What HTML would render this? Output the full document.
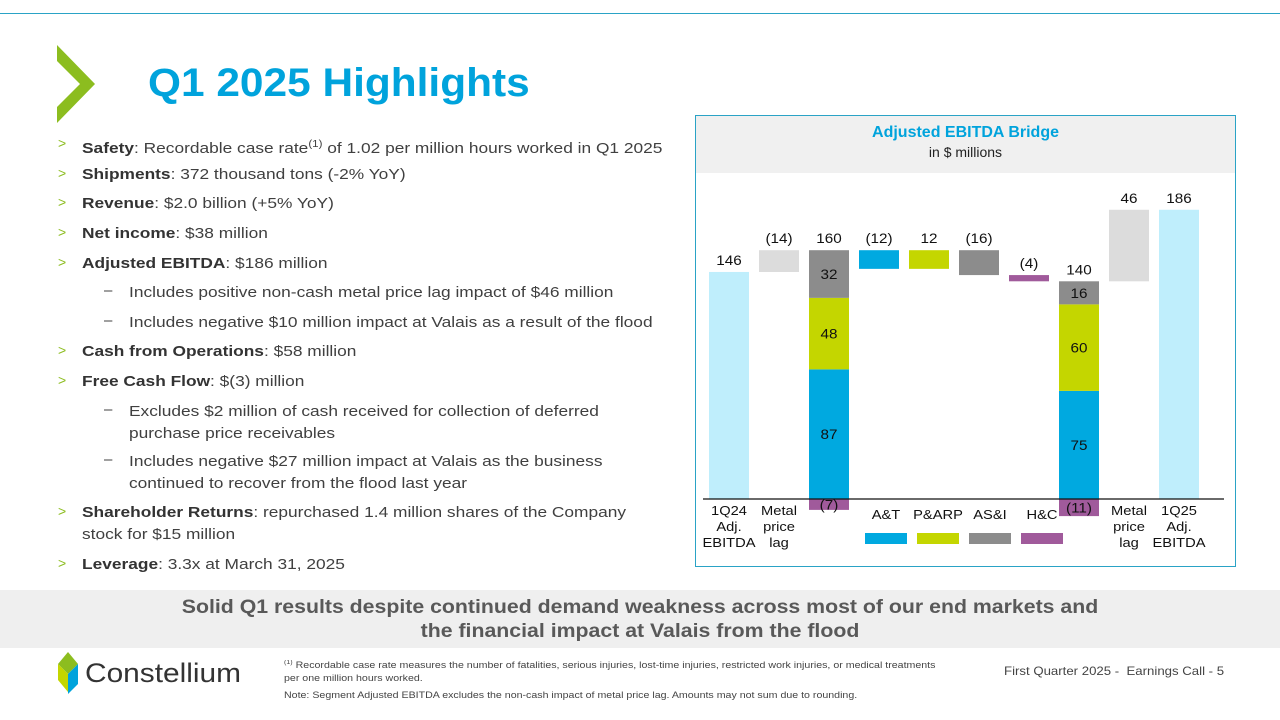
<!DOCTYPE html>
<html><head><meta charset="utf-8"><style>
*{margin:0;padding:0;box-sizing:border-box}
body{width:1280px;height:720px;background:#fff;font-family:"Liberation Sans",sans-serif;position:relative;overflow:hidden;color:#404040}
.abs{position:absolute}
.li{position:absolute;left:82px;font-size:15px;line-height:21px;white-space:nowrap;transform:scaleX(1.155);transform-origin:0 0}
.gt{position:absolute;left:58px;font-size:14px;color:#8cbd1f}
.sub{position:absolute;left:129px;font-size:15px;line-height:21.5px;white-space:nowrap;transform:scaleX(1.155);transform-origin:0 0}
.dash{position:absolute;left:104px;font-size:15px}
b{color:#333}
</style></head><body>
<div class="abs" style="left:0;top:13px;width:1280px;height:1px;background:#2aa3c6"></div>
<svg class="abs" style="left:55px;top:44px" width="45" height="80"><polygon points="2,1 40,40 2,79 2,63 25,40 2,17" fill="#8cbd1f"/></svg>
<div class="abs" style="left:148px;top:60px;font-size:40px;font-weight:bold;color:#00a3dc;line-height:46px;transform:scaleX(1.06);transform-origin:0 0">Q1 2025 Highlights</div>

<div>
<span class="gt" style="top:135px">&gt;</span><div class="li" style="top:134px"><b>Safety</b>: Recordable case rate<sup style="font-size:10px">(1)</sup> of 1.02 per million hours worked in Q1 2025</div>
<span class="gt" style="top:165px">&gt;</span><div class="li" style="top:164px"><b>Shipments</b>: 372 thousand tons (-2% YoY)</div>
<span class="gt" style="top:194px">&gt;</span><div class="li" style="top:193px"><b>Revenue</b>: $2.0 billion (+5% YoY)</div>
<span class="gt" style="top:224px">&gt;</span><div class="li" style="top:223px"><b>Net income</b>: $38 million</div>
<span class="gt" style="top:254px">&gt;</span><div class="li" style="top:253px"><b>Adjusted EBITDA</b>: $186 million</div>
<span class="dash" style="top:282px">–</span><div class="sub" style="top:282px">Includes positive non-cash metal price lag impact of $46 million</div>
<span class="dash" style="top:312px">–</span><div class="sub" style="top:312px">Includes negative $10 million impact at Valais as a result of the flood</div>
<span class="gt" style="top:342px">&gt;</span><div class="li" style="top:341px"><b>Cash from Operations</b>: $58 million</div>
<span class="gt" style="top:372px">&gt;</span><div class="li" style="top:371px"><b>Free Cash Flow</b>: $(3) million</div>
<span class="dash" style="top:401px">–</span><div class="sub" style="top:401px">Excludes $2 million of cash received for collection of deferred<br>purchase price receivables</div>
<span class="dash" style="top:451px">–</span><div class="sub" style="top:451px">Includes negative $27 million impact at Valais as the business<br>continued to recover from the flood last year</div>
<span class="gt" style="top:503px">&gt;</span><div class="li" style="top:502px;line-height:22px"><b>Shareholder Returns</b>: repurchased 1.4 million shares of the Company<br>stock for $15 million</div>
<span class="gt" style="top:555px">&gt;</span><div class="li" style="top:554px"><b>Leverage</b>: 3.3x at March 31, 2025</div>
</div>

<div class="abs" style="left:695px;top:115px;width:541px;height:452px;border:1px solid #2aa3c6">
<div style="height:57px;background:#f0f0f0;text-align:center;padding-top:7px">
<div style="font-size:16px;font-weight:bold;color:#00a3dc;line-height:20px">Adjusted EBITDA Bridge</div>
<div style="font-size:14px;color:#222;line-height:18px">in $ millions</div>
</div></div>
<svg class="abs" id="chart" style="left:0;top:0" width="1280" height="720"></svg>

<div class="abs" style="left:0;top:590px;width:1280px;height:58px;background:#efefef;padding-top:6px;font-size:19px;font-weight:bold;color:#595959;line-height:24px">
<div style="text-align:center;width:1142px;margin-left:69px;transform:scaleX(1.12);transform-origin:50% 0">Solid Q1 results despite continued demand weakness across most of our end markets and<br>the financial impact at Valais from the flood</div></div>

<svg class="abs" style="left:58px;top:652px" width="190" height="42">
<polygon points="10,0 20,12 10,22 0,12" fill="#8cbd1f"/><polygon points="10,22 20,12 20,32 10,42" fill="#00a3dc"/><polygon points="0,12 10,22 10,40 0,28" fill="#c4d600"/>
<text x="27" y="30" font-family="Liberation Sans,sans-serif" font-size="27" fill="#333" textLength="156" lengthAdjust="spacingAndGlyphs">Constellium</text></svg>
<div class="abs" style="left:284px;top:657px;font-size:9px;line-height:13px;color:#444;width:680px;white-space:nowrap;transform:scaleX(1.18);transform-origin:0 0"><sup style="font-size:6px">(1)</sup> Recordable case rate measures the number of fatalities, serious injuries, lost-time injuries, restricted work injuries, or medical treatments<br>per one million hours worked.<div style="margin-top:4px">Note: Segment Adjusted EBITDA excludes the non-cash impact of metal price lag. Amounts may not sum due to rounding.</div></div>
<div class="abs" style="left:1004px;top:664px;font-size:12px;color:#444;white-space:nowrap;transform:scaleX(1.1);transform-origin:0 0">First Quarter 2025 -&nbsp; Earnings Call - 5</div>

<script>
const categories=["1Q24 Adj. EBITDA","Metal price lag","1Q24 segments","A&T","P&ARP","AS&I","H&C","1Q25 segments","Metal price lag","1Q25 Adj. EBITDA"];
const totals1Q24=[146];
const metalLag1=[14];
const seg1Q24=[87,48,32,-7];
const segTotal1Q24=[160];
const deltas=[-12,12,-16,-4];
const deltaLabels=["(12)","12","(16)","(4)"];
const seg1Q25=[75,60,16,-11];
const segTotal1Q25=[140];
const metalLag2=[46];
const totals1Q25=[186];
const segColors=["#00a9e0","#c4d600","#8c8c8c","#a05a9b"];
const svg=document.getElementById('chart');
const NS="http://www.w3.org/2000/svg";
const base=499, scale=1.555;
const y=v=>base-v*scale;
const x0=i=>709+i*50, bw=40;
function rect(i,v1,v2,fill,name){const r=document.createElementNS(NS,'rect');
r.setAttribute('x',x0(i));r.setAttribute('y',y(Math.max(v1,v2)));r.setAttribute('width',bw);r.setAttribute('height',Math.abs(v2-v1)*scale);r.setAttribute('fill',fill);


svg.appendChild(r);}
function txt(xx,yy,s,name,size){const t=document.createElementNS(NS,'text');t.setAttribute('transform','translate('+xx+','+yy+') scale(1.13,1)');t.setAttribute('text-anchor','middle');t.setAttribute('font-size',size||13.5);t.setAttribute('font-family','Liberation Sans,sans-serif');t.setAttribute('fill','#111');t.textContent=s;


svg.appendChild(t);}
const cx=i=>x0(i)+bw/2;
rect(0,0,totals1Q24[0],"#bfeefc","bar-1q24-ebitda");txt(cx(0),y(totals1Q24[0])-7,String(totals1Q24[0]),"label-1q24");
rect(1,totals1Q24[0],totals1Q24[0]+metalLag1[0],"#dcdcdc","bar-metal-lag-1q24");txt(cx(1),y(totals1Q24[0]+metalLag1[0])-7,"("+metalLag1[0]+")","label-metal-lag-1q24");
function stack(i,vals,total,prefix){
 const pos=vals.filter(v=>v>0).reduce((a,b)=>a+b,0);const f=total/pos;let acc=0;
 vals.forEach((v,k)=>{if(v>=0){rect(i,acc,acc+v*f,segColors[k],prefix+"-seg-"+k);txt(cx(i),y(acc+v*f/2)+5,String(v),prefix+"-seg-label-"+k);acc+=v*f;}
 else{rect(i,0,v,segColors[k],prefix+"-seg-"+k);txt(cx(i),y(v/2)+5,"("+(-v)+")",prefix+"-seg-label-"+k);}});
 txt(cx(i),y(total)-7,String(total),prefix+"-total");}
stack(2,seg1Q24,segTotal1Q24[0],"bar-1q24-segments");
let run=segTotal1Q24[0];
deltas.forEach((d,k)=>{const lo=Math.min(run,run+d),hi=Math.max(run,run+d);rect(3+k,lo,hi,segColors[k],"bar-delta-"+k);txt(cx(3+k),y(hi)-7,deltaLabels[k],"label-delta-"+k);run+=d;});
stack(7,seg1Q25,segTotal1Q25[0],"bar-1q25-segments");
rect(8,segTotal1Q25[0],segTotal1Q25[0]+metalLag2[0],"#dcdcdc","bar-metal-lag-1q25");txt(cx(8),y(segTotal1Q25[0]+metalLag2[0])-7,String(metalLag2[0]),"label-metal-lag-1q25");
rect(9,0,totals1Q25[0],"#bfeefc","bar-1q25-ebitda");txt(cx(9),y(totals1Q25[0])-7,String(totals1Q25[0]),"label-1q25");
const ax=document.createElementNS(NS,'line');ax.setAttribute('x1',703);ax.setAttribute('x2',1224);ax.setAttribute('y1',base);ax.setAttribute('y2',base);ax.setAttribute('stroke','#111');ax.setAttribute('stroke-width',1.3);


svg.appendChild(ax);
const xl={0:["1Q24","Adj.","EBITDA"],1:["Metal","price","lag"],8:["Metal","price","lag"],9:["1Q25","Adj.","EBITDA"]};
Object.keys(xl).forEach(k=>xl[k].forEach((s,j)=>txt(cx(+k),515+j*16,s,"x-label-"+k,13)));
["A&T","P&ARP","AS&I","H&C"].forEach((s,k)=>{const c=886+k*52;txt(c,519,s,"legend-label-"+k,13);
 const r=document.createElementNS(NS,'rect');r.setAttribute('x',c-21);r.setAttribute('y',533);r.setAttribute('width',42);r.setAttribute('height',11);r.setAttribute('fill',segColors[k]);
 
 
 svg.appendChild(r);});
</script>
</body></html>
